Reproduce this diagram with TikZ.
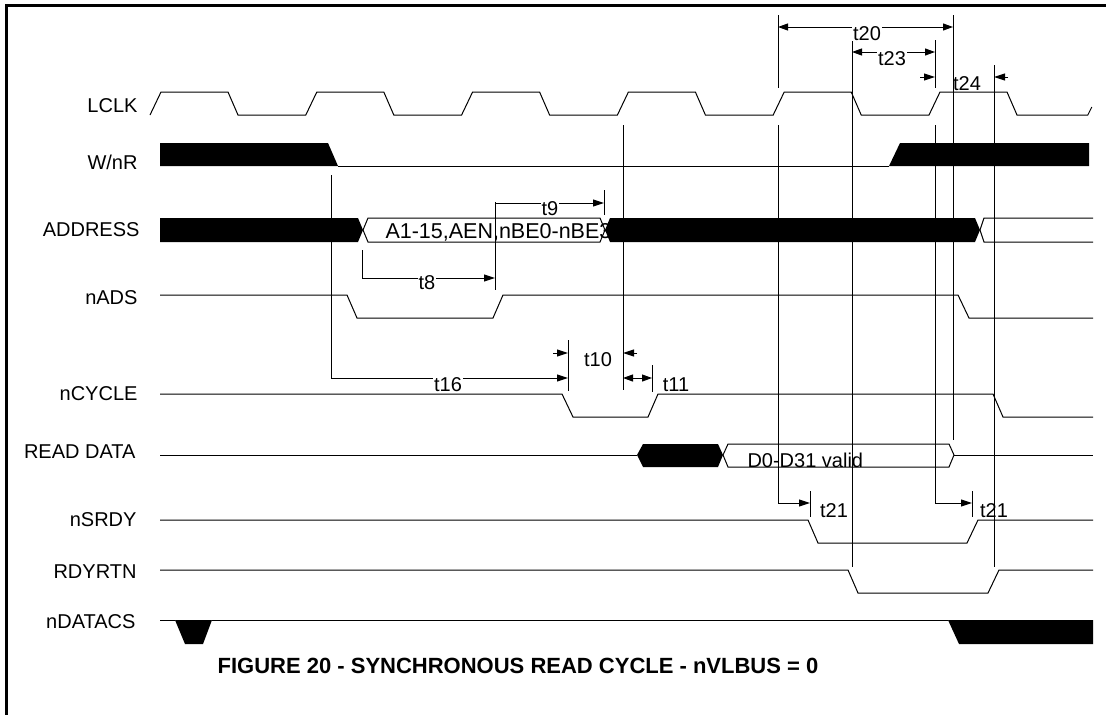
\documentclass[tikz,border=0pt]{standalone}
\usepackage{fontspec}
\setmainfont{Liberation Sans}
\usetikzlibrary{arrows.meta}

\begin{document}
\begin{tikzpicture}[x=1pt,y=-1pt,line width=1pt,
		nombre/.style={anchor=base east,inner sep=0pt,font=\fontsize{20}{24}\selectfont},
		tiempo/.style={anchor=base,inner sep=1pt,font=\fontsize{20}{24}\selectfont},
		hueco/.style={tiempo,fill=white},
		flecha/.style={-{Triangle[length=11pt,width=7pt]}},
		doble/.style={{Triangle[length=10pt,width=7pt]}-{Triangle[length=10pt,width=7pt]}}]
		%Recuadro
		\useasboundingbox (0,0) rectangle (1106,715);
		\draw[line width=2.5pt] (6.5,715) -- (6.5,5.5) -- (1106,5.5);
		
		%Nombres de las senales
		\node[nombre] (lclk) at (138,112) {LCLK};
		\node[nombre] (wnr) at (138,169) {W/nR};
		\node[nombre] (addr) at (140,236) {ADDRESS};
		\node[nombre] (nads) at (138,304) {nADS};
		\node[nombre] (ncycle) at (138,400) {nCYCLE};
		\node[nombre] (rdata) at (136,458) {READ DATA};
		\node[nombre] (nsrdy) at (137,526) {nSRDY};
		\node[nombre] (rdyrtn) at (137,578) {RDYRTN};
		\node[nombre] (ndatacs) at (136,628) {nDATACS};
		
		%El reloj
		\draw (150,115) foreach \k in {1,...,6} { -- ++(11,-23) -- ++(67,0) -- ++(10,23) -- ++(67.8,0) } -- ++(3,0) -- ++(4,-8);
		
		%W/nR
		\fill (160,143) -- (328,143) -- (338,166) -- (160,166) -- cycle;
		\draw (338,166) -- (889,166);
		\fill (889,166) -- (900,143) -- (1089,143) -- (1089,166) -- cycle;
		
		%ADDRESS
		\fill (160,218) -- (358,218) -- (363,230) -- (358,242) -- (160,242) -- cycle;
		\draw (363,230) -- (368,218) -- (600,218) -- (605,230) -- (600,242) -- (368,242) -- cycle;
		\node[anchor=base west,inner sep=0pt,font=\fontsize{21.5}{24}\selectfont] (dir) at (385,238) {A1-15,AEN,nBE0-nBE3};
		\fill (605,230) -- (610,218) -- (975,218) -- (980,230) -- (975,242) -- (610,242) -- cycle;
		\draw (1093,218) -- (984,218) -- (980,230) -- (984,242) -- (1093,242);
		
		%nADS y nCYCLE
		\draw (160,295) -- (347,295) -- (357,318) -- (493,318) -- (503,295) -- (958,295) -- (969,318) -- (1093,318);
		\draw (160,394) -- (562,394) -- (573,417) -- (648,417) -- (658,394) -- (993,394) -- (1003,417) -- (1093,417);
		
		%READ DATA
		\draw (160,455) -- (637,455);
		\fill (637,455) -- (643,444) -- (718,444) -- (723,455) -- (718,467) -- (643,467) -- cycle;
		\draw (723,455) -- (728,444) -- (949,444) -- (954,455) -- (949,467) -- (728,467) -- cycle;
		\draw (954,455) -- (1093,455);
		\node[tiempo,anchor=base west,inner sep=0pt] (datos) at (747,467) {D0-D31 valid};
		
		%nSRDY, RDYRTN
		\draw (160,520) -- (808,520) -- (818,543) -- (967,543) -- (978,520) -- (1093,520);
		\draw (160,570) -- (848,570) -- (858,593) -- (988,593) -- (999,570) -- (1093,570);
		
		%nDATACS
		\draw (160,620) -- (175,620);
		\fill (175,620) -- (212,620) -- (203,644) -- (185,644) -- cycle;
		\draw (212,620) -- (948,620);
		\fill (948,620) -- (1093,620) -- (1093,644) -- (959,644) -- cycle;
		
		%Tiempos de la direccion
		\draw[flecha] (362,250) |- (495,278);
		\draw (495,202) -- (495,290);
		\draw[flecha] (495,203) -- (604,203);
		\draw (604,190) -- (604,215);
		\node[hueco] (t8) at (427,289) {t8};
		\node[hueco] (t9) at (550,215) {t9};
		
		%t16, t10, t11
		\draw[flecha] (331,175) |- (568,378);
		\draw (568,340) -- (568,391);
		\draw (623,125) -- (623,390);
		\draw[flecha] (553,353) -- (568,353);
		\draw[flecha] (637,353) -- (623,353);
		\draw[doble] (623,378) -- (652,378);
		\draw (652,365) -- (652,392);
		\node[hueco] (t16) at (448,391) {t16};
		\node[tiempo] (t10) at (598,366) {t10};
		\node[tiempo] (t11) at (676,391) {t11};
		
		%Lineas del final del ciclo
		\draw (778,15) -- (778,88);
		\draw[flecha] (778,125) |- (810,503);
		\draw (810,491) -- (810,517);
		\draw (852,40) -- (852,567);
		\draw (935,40) -- (935,88);
		\draw[flecha] (935,125) |- (972,503);
		\draw (972,491) -- (972,517);
		\draw (953,15) -- (953,440);
		\draw (994,65) -- (994,567);
		
		%t20, t23, t24
		\draw[doble] (778,27) -- (953,27);
		\draw[doble] (852,52) -- (935,52);
		\draw[flecha] (920,77) -- (935,77);
		\draw[flecha] (1008,77) -- (994,77);
		\node[hueco] (t20) at (867,40) {t20};
		\node[hueco] (t23) at (892,65) {t23};
		\node[tiempo] (t24) at (967,90) {t24};
		\node[tiempo] (t21a) at (834,517) {t21};
		\node[tiempo] (t21b) at (994,517) {t21};
		
		%Titulo
		\node[anchor=base,font=\bfseries\fontsize{22}{26}\selectfont] (titulo) at (518,673) {FIGURE 20 - SYNCHRONOUS READ CYCLE - nVLBUS = 0};
	
	\end{tikzpicture}
\end{document}
